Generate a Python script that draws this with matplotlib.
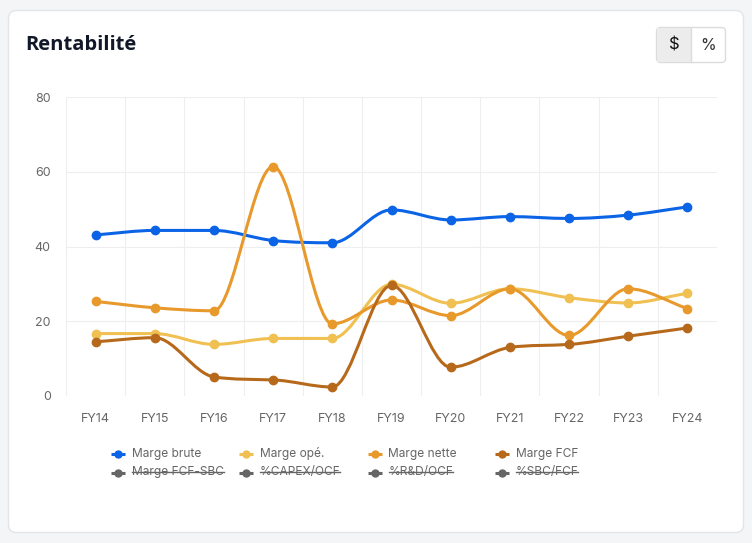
import numpy as np
import matplotlib
matplotlib.use("Agg")
import matplotlib.pyplot as plt
from matplotlib.path import Path
from matplotlib.patches import PathPatch, FancyBboxPatch, Rectangle

# ---------------- data ----------------
years = ["FY14", "FY15", "FY16", "FY17", "FY18", "FY19", "FY20", "FY21", "FY22", "FY23", "FY24"]
marge_brute = [43.1, 44.3, 44.3, 41.6, 41.0, 49.8, 47.1, 48.0, 47.5, 48.4, 50.6]
marge_ope = [16.7, 16.7, 13.8, 15.4, 15.4, 29.9, 24.8, 28.7, 26.3, 24.9, 27.5]
marge_nette = [25.3, 23.6, 22.8, 61.4, 19.3, 25.7, 21.5, 28.7, 16.2, 28.7, 23.4]
marge_fcf = [14.5, 15.6, 5.1, 4.3, 2.4, 29.6, 7.7, 13.0, 13.8, 16.0, 18.2]
y_ticks = [0, 20, 40, 60, 80]

visible_series = [
    ("Marge brute", marge_brute, "#0b64e5"),
    ("Marge opé.", marge_ope, "#f0c052"),
    ("Marge nette", marge_nette, "#e8992c"),
    ("Marge FCF", marge_fcf, "#b7691b"),
]
hidden_labels = ["Marge FCF-SBC", "%CAPEX/OCF", "%R&D/OCF", "%SBC/FCF"]

W, H = 752, 543
fig = plt.figure(figsize=(W / 100, H / 100), dpi=100)
fig.patch.set_facecolor("#f4f5f7")

FONT = ["Inter", "DejaVu Sans"]

# card
bg = fig.add_axes([0, 0, 1, 1], zorder=0)
bg.set_xlim(0, W)
bg.set_ylim(H, 0)
bg.axis("off")
bg.add_patch(FancyBboxPatch((8.5, 10.5), 735, 522, boxstyle="round,pad=0,rounding_size=8",
                            facecolor="white", edgecolor="#e3e5e8", lw=1))
bg.text(25.5, 45, "Rentabilité", fontsize=14.5, fontweight="bold", color="#111827",
        va="center", ha="left", family=["Open Sans", "DejaVu Sans"])
# button group
bg.add_patch(FancyBboxPatch((656.5, 27.5), 69, 35, boxstyle="round,pad=0,rounding_size=4",
                            facecolor="white", edgecolor="#dcdcdc", lw=1))
bg.add_patch(Rectangle((657, 28), 34, 34, facecolor="#ececec", edgecolor="none"))
bg.plot([691, 691], [28, 62], color="#dcdcdc", lw=1)
bg.text(674, 45, "$", fontsize=12, color="#111", ha="center", va="center", family=FONT)
bg.text(708.5, 45, "%", fontsize=11.5, color="#333", ha="center", va="center", family=FONT)

# plot axes
L, R, T, B = 66, 717, 97, 396
ax = fig.add_axes([L / W, 1 - B / H, (R - L) / W, (B - T) / H], zorder=1)
ax.set_facecolor("none")
n = len(years)
x = np.arange(n)
ax.set_xlim(-0.5, n - 0.5)
ax.set_ylim(0, 80)
for s in ax.spines.values():
    s.set_visible(False)
for xv in np.arange(-0.5, n, 1.0):
    ax.axvline(xv, color="#eeeeee", lw=0.8, zorder=0)
for yv in y_ticks:
    ax.axhline(yv, color="#eeeeee", lw=0.8, zorder=0)
ax.set_xticks(x)
ax.set_xticklabels(years, family=FONT, fontsize=9, color="#666666")
ax.set_yticks(y_ticks)
ax.set_yticklabels([str(v) for v in y_ticks], family=FONT, fontsize=9, color="#666666")
ax.tick_params(axis="y", length=0, pad=11)
ax.tick_params(axis="x", length=0, pad=12)


def monotone_path(xs, ys):
    # Chart.js 'monotone' cubic interpolation (Fritsch-Carlson)
    xs = np.asarray(xs, float)
    ys = np.asarray(ys, float)
    m = len(xs)
    delta = np.diff(ys) / np.diff(xs)
    mk = np.zeros(m)
    mk[0] = delta[0]
    mk[-1] = delta[-1]
    for i in range(1, m - 1):
        if delta[i - 1] == 0 or delta[i] == 0 or np.sign(delta[i - 1]) != np.sign(delta[i]):
            mk[i] = 0
        else:
            mk[i] = (delta[i - 1] + delta[i]) / 2
    for i in range(m - 1):
        if delta[i] == 0:
            mk[i] = mk[i + 1] = 0
            continue
        a = mk[i] / delta[i]
        b = mk[i + 1] / delta[i]
        sq = a * a + b * b
        if sq > 9:
            tau = 3 / np.sqrt(sq)
            mk[i] = a * tau * delta[i]
            mk[i + 1] = b * tau * delta[i]
    verts = [(xs[0], ys[0])]
    codes = [Path.MOVETO]
    for i in range(1, m):
        dx = (xs[i] - xs[i - 1]) / 3
        verts += [(xs[i - 1] + dx, ys[i - 1] + mk[i - 1] * dx),
                  (xs[i] - dx, ys[i] - mk[i] * dx),
                  (xs[i], ys[i])]
        codes += [Path.CURVE4] * 3
    return Path(verts, codes)


for label, vals, col in visible_series:
    path = monotone_path(x, vals)
    ax.add_patch(PathPatch(path, facecolor="none", edgecolor=col, lw=2.2, zorder=3,
                           capstyle="round", joinstyle="round"))
    ax.plot(x, vals, "o", color=col, ms=6, zorder=4, mec=col)

# legend (custom)
col_x = [111, 239, 368, 495]
rows_y = [454, 472.5]
TX = 20.5
for i, (label, vals, col) in enumerate(visible_series):
    x0 = col_x[i]
    bg.plot([x0, x0 + 14], [rows_y[0], rows_y[0]], color=col, lw=2.2, zorder=2,
            solid_capstyle="butt")
    bg.plot([x0 + 7], [rows_y[0]], "o", color=col, ms=5, zorder=3)
    bg.text(x0 + TX, rows_y[0], label, fontsize=8.6, color="#666666", va="center",
            ha="left", family=FONT)
for i, label in enumerate(hidden_labels):
    x0 = col_x[i]
    y0 = rows_y[1]
    bg.plot([x0, x0 + 14], [y0, y0], color="#666666", lw=2.2, zorder=2,
            solid_capstyle="butt")
    bg.plot([x0 + 7], [y0], "o", color="#666666", ms=5, zorder=3)
    t = bg.text(x0 + TX, y0, label, fontsize=8.6, color="#666666", va="center",
                ha="left", family=FONT)
    fig.canvas.draw()
    bb = t.get_window_extent()
    x1 = x0 + TX + bb.width
    bg.plot([x0 + TX, x1], [y0 - 0.3, y0 - 0.3], color="#666666", lw=1)

fig.savefig("out.png", dpi=100, facecolor=fig.get_facecolor())
